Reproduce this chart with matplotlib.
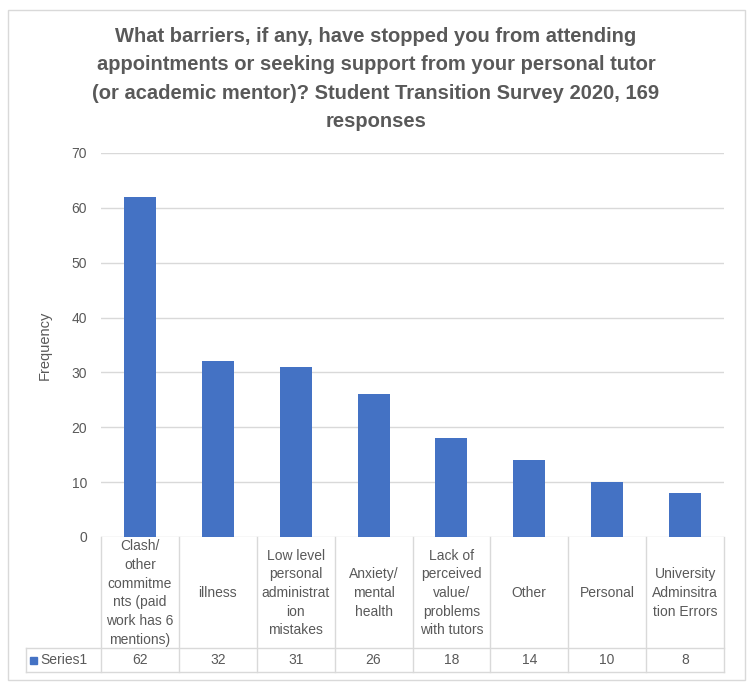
import matplotlib
matplotlib.use("Agg")
import matplotlib.pyplot as plt
from matplotlib.patches import Rectangle
from matplotlib.lines import Line2D
import matplotlib.transforms as mtransforms

categories = [
    "Clash/\nother\ncommitme\nnts (paid\nwork has 6\nmentions)",
    "illness",
    "Low level\npersonal\nadministrat\nion\nmistakes",
    "Anxiety/\nmental\nhealth",
    "Lack of\nperceived\nvalue/\nproblems\nwith tutors",
    "Other",
    "Personal",
    "University\nAdminsitra\ntion Errors",
]
values = [62, 32, 31, 26, 18, 14, 10, 8]
series_name = "Series1"
yticks = [0, 10, 20, 30, 40, 50, 60, 70]
title = ("What barriers, if any, have stopped you from attending\n"
         "appointments or seeking support from your personal tutor\n"
         "(or academic mentor)? Student Transition Survey 2020, 169\n"
         "responses")

plt.rcParams['font.family'] = ['Liberation Sans Narrow', 'Liberation Sans', 'DejaVu Sans']
TXT = '#595959'
GRID = '#d9d9d9'
BAR = '#4472c4'

W, H = 752, 687
fig = plt.figure(figsize=(W / 100, H / 100), dpi=100)

def fx(px):
    return px / W

def fy(py):
    return 1 - py / H

# outer border
fig.patches.append(Rectangle((fx(8), fy(680)), fx(745) - fx(8), fy(10) - fy(680),
                             transform=fig.transFigure, fill=False, edgecolor=GRID, lw=1))

L, R, T, B = 101, 724, 153, 537
ax = fig.add_axes([fx(L), fy(B), fx(R) - fx(L), fy(T) - fy(B)])
x = list(range(len(values)))
ax.bar(x, values, width=0.41, color=BAR, zorder=3)
ax.set_xlim(-0.5, len(values) - 0.5)
ax.set_ylim(0, 70)
ax.set_yticks(yticks)
ax.set_yticklabels([str(v) for v in yticks], color=TXT, fontsize=10)
ax.tick_params(axis='y', length=0, pad=10)
ax.set_xticks([])
ax.grid(axis='y', color=GRID, lw=1, zorder=0)
for s in ax.spines.values():
    s.set_visible(False)
ax.set_ylabel("Frequency", color=TXT, fontsize=10.5, labelpad=14)

fig.text(0.5, fy(79), title, ha='center', va='center', fontsize=14.5,
         fontweight='bold', color=TXT, linespacing=1.62)

# data table
tr = mtransforms.blended_transform_factory(ax.transData, ax.transAxes)
ah = B - T
def ay(py):
    return (B - py) / ah

y_top = ay(537)
y_mid = ay(648)
y_bot = ay(672)
left_px = 26
x_left = -0.5 - (L - left_px) / ((R - L) / len(values))

kw = dict(color=GRID, lw=1, clip_on=False)
for i in range(len(values) + 1):
    ax.add_line(Line2D([i - 0.5, i - 0.5], [y_top, y_bot], transform=tr, **kw))
ax.add_line(Line2D([x_left, len(values) - 0.5], [y_mid, y_mid], transform=tr, **kw))
ax.add_line(Line2D([x_left, len(values) - 0.5], [y_bot, y_bot], transform=tr, **kw))
ax.add_line(Line2D([x_left, x_left], [y_mid, y_bot], transform=tr, **kw))

for i, (c, v) in enumerate(zip(categories, values)):
    ax.text(i, ay(593), c, transform=tr, ha='center', va='center',
            fontsize=10, color=TXT, linespacing=1.42, clip_on=False)
    ax.text(i, ay(660), str(v), transform=tr, ha='center', va='center',
            fontsize=10, color=TXT, clip_on=False)

fig.patches.append(Rectangle((fx(30), fy(664)), fx(7), fx(7) * W / H,
                             transform=fig.transFigure, color=BAR))
fig.text(fx(40), fy(660), series_name, ha='left', va='center', fontsize=10, color=TXT)

fig.savefig("out.png", dpi=100)
